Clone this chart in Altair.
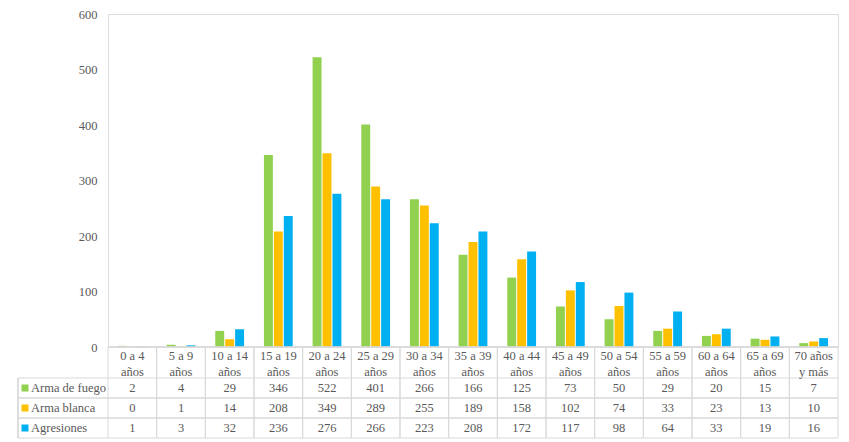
import altair as alt
import pandas as pd

categories = ["0 a 4\naños", "5 a 9\naños", "10 a 14\naños", "15 a 19\naños",
              "20 a 24\naños", "25 a 29\naños", "30 a 34\naños", "35 a 39\naños",
              "40 a 44\naños", "45 a 49\naños", "50 a 54\naños", "55 a 59\naños",
              "60 a 64\naños", "65 a 69\naños", "70 años\ny más"]
series = ["Arma de fuego", "Arma blanca", "Agresiones"]
arma_fuego = [2, 4, 29, 346, 522, 401, 266, 166, 125, 73, 50, 29, 20, 15, 7]
arma_blanca = [0, 1, 14, 208, 349, 289, 255, 189, 158, 102, 74, 33, 23, 13, 10]
agresiones = [1, 3, 32, 236, 276, 266, 223, 208, 172, 117, 98, 64, 33, 19, 16]
colors = ["#92D050", "#FFC000", "#00B0F0"]
y_ticks = [0, 100, 200, 300, 400, 500, 600]

rows = []
for s, vals in zip(series, [arma_fuego, arma_blanca, agresiones]):
    for c, v in zip(categories, vals):
        rows.append({"category": c, "series": s, "value": v})
df = pd.DataFrame(rows)
cat_df = pd.DataFrame({"category": categories})
ser_df = pd.DataFrame({"series": series})

FONT = "Liberation Serif, Times New Roman, serif"
FS = 12.5
TXT = "#595959"
LINE = "#D9D9D9"
W, H = 730, 333
ROW_TOP, ROW_BOT = 364, 424

x_scale = alt.Scale(domain=categories, paddingInner=0, paddingOuter=0)
color_scale = alt.Scale(domain=series, range=colors)
row_scale = alt.Scale(type="band", domain=series, range=[ROW_TOP, ROW_BOT], paddingInner=0, paddingOuter=0)

bars = alt.Chart(df).mark_bar().encode(
    x=alt.X("category:N", scale=x_scale, axis=None, sort=categories),
    xOffset=alt.XOffset("series:N", scale=alt.Scale(domain=series, paddingInner=0.1, paddingOuter=1.0), sort=series),
    y=alt.Y("value:Q", scale=alt.Scale(domain=[0, 600], nice=False),
            axis=alt.Axis(values=y_ticks, grid=False, domain=False, ticks=False,
                          labelPadding=11, labelFont=FONT, labelFontSize=FS,
                          labelColor=TXT, title=None)),
    color=alt.Color("series:N", scale=color_scale, legend=None),
)

top_line = alt.Chart(ser_df).mark_rule(color=LINE, strokeWidth=1).encode(
    x=alt.value(0), x2=alt.value(W), y=alt.value(H)
)

vlines0 = alt.Chart(cat_df).mark_rule(color=LINE, strokeWidth=1).encode(
    x=alt.X("category:N", scale=x_scale, axis=None, bandPosition=0, sort=categories),
    y=alt.value(H), y2=alt.value(ROW_BOT),
)
vlines1 = alt.Chart(cat_df).mark_rule(color=LINE, strokeWidth=1).encode(
    x=alt.X("category:N", scale=x_scale, axis=None, bandPosition=1, sort=categories),
    y=alt.value(H), y2=alt.value(ROW_BOT),
)
left_line = alt.Chart(ser_df).mark_rule(color=LINE, strokeWidth=1).encode(
    x=alt.value(-90), y=alt.value(ROW_TOP), y2=alt.value(ROW_BOT)
)
hlines0 = alt.Chart(ser_df).mark_rule(color=LINE, strokeWidth=1).encode(
    y=alt.Y("series:N", scale=row_scale, axis=None, bandPosition=0, sort=series),
    x=alt.value(-90), x2=alt.value(W),
)
hlines1 = alt.Chart(ser_df).mark_rule(color=LINE, strokeWidth=1).encode(
    y=alt.Y("series:N", scale=row_scale, axis=None, bandPosition=1, sort=series),
    x=alt.value(-90), x2=alt.value(W),
)

header = alt.Chart(cat_df).mark_text(
    font=FONT, fontSize=FS, color=TXT, lineBreak="\n", lineHeight=16,
    align="center", baseline="middle"
).encode(
    x=alt.X("category:N", scale=x_scale, axis=None, sort=categories),
    y=alt.value(341.5),
    text="category:N",
)

numbers = alt.Chart(df).mark_text(
    font=FONT, fontSize=FS, color=TXT, align="center", baseline="middle"
).encode(
    x=alt.X("category:N", scale=x_scale, axis=None, sort=categories),
    y=alt.Y("series:N", scale=row_scale, axis=None, sort=series),
    text="value:Q",
)

squares = alt.Chart(ser_df).mark_square(size=49, opacity=1).encode(
    x=alt.value(-83),
    y=alt.Y("series:N", scale=row_scale, axis=None, sort=series),
    color=alt.Color("series:N", scale=color_scale, legend=None),
)
row_labels = alt.Chart(ser_df).mark_text(
    font=FONT, fontSize=FS, color=TXT, align="left", baseline="middle"
).encode(
    x=alt.value(-77),
    y=alt.Y("series:N", scale=row_scale, axis=None, sort=series),
    text="series:N",
)

chart = alt.layer(
    bars, top_line, vlines0, vlines1, left_line, hlines0, hlines1,
    header, numbers, squares, row_labels
).resolve_scale(y="independent").properties(
    width=W, height=H,
    autosize=alt.AutoSizeParams(type="none"),
    padding={"left": 100, "top": 6, "right": 3, "bottom": 92},
).configure_view(stroke=None).configure(background="white")

chart.save("out.html", embed_options={"renderer": "svg", "actions": False})
